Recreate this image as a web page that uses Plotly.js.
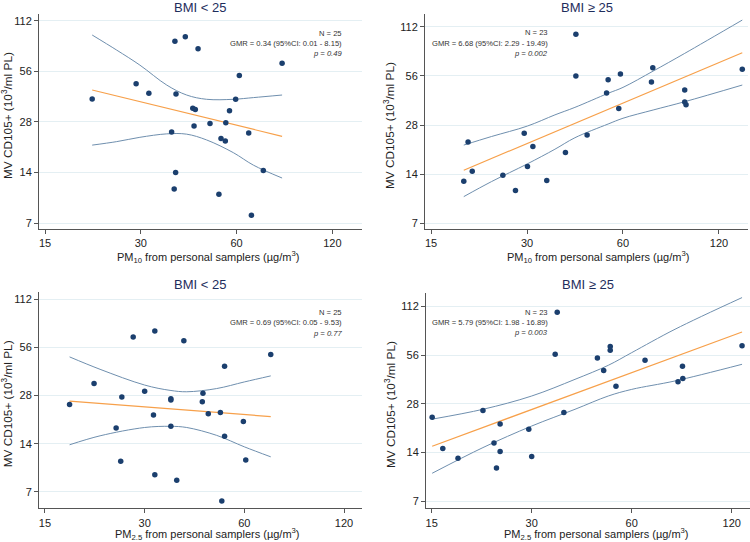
<!DOCTYPE html>
<html><head><meta charset="utf-8">
<script src="https://cdn.plot.ly/plotly-3.0.1.min.js"></script>
<style>html,body{margin:0;padding:0;background:#fff}#chart{width:750px;height:542px}</style>
</head><body><div id="chart"></div>
<script>
// ---- shared tick labels ----
const xTickVals = [15, 30, 60, 120];
const xTickText = ['15', '30', '60', '120'];
const yTickVals = [7, 14, 28, 56, 112];
const yTickText = ['7', '14', '28', '56', '112'];

// ---- Panel A: PM10, BMI < 25 ----
const pm10LowX = [21.1,29.0,31.8,38.4,41.4,45.4,38.7,37.5,43.7,44.5,44.1,49.5,53.6,55.3,55.5,57.0,59.6,61.2,65.5,83.4,38.6,38.2,52.8,72.8,66.8];
const pm10LowY = [38.4,47.3,41.5,84.5,89.9,76.4,41.1,24.4,33.8,33.2,26.5,27.4,22.3,21.6,27.7,32.7,38.2,53.0,24.1,62.5,14.0,11.2,10.4,14.4,7.8];
const pm10LowFitX = [21.1, 83.4];
const pm10LowFitY = [43.4, 23.0];
const pm10LowCiX = [21.1, 25.2, 29.8, 36.2, 41.8, 48.3, 58.6, 67.8, 83.4];
const pm10LowCiUp = [92.1, 74.9, 61.0, 46.4, 40.5, 38.2, 38.2, 39.1, 40.5];
const pm10LowCiLo = [20.4, 21.4, 22.7, 23.8, 23.7, 21.9, 18.4, 15.5, 13.0];
const pm10LowText = ['N = 25', 'GMR = 0.34 (95%CI: 0.01 - 8.15)', 'p = 0.49'];

// ---- Panel B: PM10, BMI >= 25 ----
const pm10HighX = [19.0,19.6,20.2,25.2,27.6,29.4,30.1,31.3,34.6,39.6,42.7,42.7,46.3,53.3,53.9,58.2,58.9,73.7,74.4,93.7,93.7,94.6,142];
const pm10HighY = [12.65,22.0,14.6,13.8,11.1,24.9,15.6,20.7,12.8,19.0,100.6,55.9,24.3,44.0,53.1,35.3,57.5,51.3,62.8,45.8,38.7,37.3,61.4];
const pm10HighFitX = [19.0, 142];
const pm10HighFitY = [14.8, 77.6];
const pm10HighCiX = [19.0, 23.2, 30.1, 36.7, 42.4, 53.9, 60.0, 74.6, 93.7, 142];
const pm10HighCiUp = [21.1, 23.8, 27.6, 32.3, 35.9, 43.8, 47.6, 59.9, 76.9, 123];
const pm10HighCiLo = [10.2, 12.6, 16.2, 19.9, 23.4, 28.4, 30.8, 34.6, 38.9, 49.2];
const pm10HighText = ['N = 23', 'GMR = 6.68 (95%CI: 2.29 - 19.49)', 'p = 0.002'];

// ---- Panel C: PM2.5, BMI < 25 ----
const pm25LowX = [17.8,21.1,24.6,25.6,25.4,27.7,30.0,31.9,32.2,32.2,36.0,36.0,36.0,37.5,39.4,44.8,45.0,46.7,50.8,51.3,52.3,52.3,59.6,60.6,72.1];
const pm25LowY = [24.6,33.4,17.6,27.5,10.9,65.2,29.8,21.2,71.0,8.95,26.8,26.3,18.0,8.29,61.8,25.6,29.0,21.6,22.0,6.14,42.7,15.6,19.3,11.1,50.7];
const pm25LowFitX = [17.8, 72.1];
const pm25LowFitY = [25.9, 20.7];
const pm25LowCiX = [17.8, 22.0, 30.0, 35.8, 40.2, 49.5, 60.0, 72.1];
const pm25LowCiUp = [48.9, 40.9, 32.6, 30.2, 29.6, 31.0, 34.1, 37.2];
const pm25LowCiLo = [13.8, 15.7, 17.7, 18.0, 17.7, 15.8, 13.4, 11.6];
const pm25LowText = ['N = 25', 'GMR = 0.69 (95%CI: 0.05 - 9.53)', 'p = 0.77'];

// ---- Panel D: PM2.5, BMI >= 25 ----
const pm25HighX = [15.05,16.2,18.0,21.4,23.1,23.5,24.1,24.1,29.4,30.0,35.8,35.3,37.5,47.3,49.4,51.7,51.7,53.8,65.8,82.7,85.3,85.5,128.9];
const pm25HighY = [23.1,14.8,12.9,25.5,16.0,11.2,21.0,14.2,19.5,13.2,103.3,56.7,24.7,53.9,45.1,63.3,60.1,36.0,52.1,38.3,47.8,40.2,64.2];
const pm25HighFitX = [15.05, 128.9];
const pm25HighFitY = [15.3, 78.0];
const pm25HighCiX = [15.05, 21.4, 30.0, 40.5, 51.0, 60.0, 81.0, 128.9];
const pm25HighCiUp = [22.5, 25.9, 31.3, 39.7, 48.5, 58.1, 81.1, 127.4];
const pm25HighCiLo = [10.4, 15.0, 20.4, 25.9, 31.3, 34.4, 38.8, 49.2];
const pm25HighText = ['N = 23', 'GMR = 5.79 (95%CI: 1.98 - 16.89)', 'p = 0.003'];

const panelTitles = ['BMI < 25', 'BMI \u2265 25', 'BMI < 25', 'BMI \u2265 25'];
const yTitle = 'MV CD105+ (10<sup>3</sup>/ml PL)';
const xTitles = ['PM<sub>10</sub> from personal samplers (\u00b5g/m<sup>3</sup>)',
                 'PM<sub>10</sub> from personal samplers (\u00b5g/m<sup>3</sup>)',
                 'PM<sub>2.5</sub> from personal samplers (\u00b5g/m<sup>3</sup>)',
                 'PM<sub>2.5</sub> from personal samplers (\u00b5g/m<sup>3</sup>)'];

// ---- styling / layout ----
const W = 750, H = 542;
const FONT = 'Liberation Sans, Arial, sans-serif';
const C_DOT = '#1b3f6e', C_CI = '#6f8fae', C_FIT = '#f7a04a';
const px = v => v / W;
const py = v => 1 - v / H;

const panels = [
  {sx: pm10LowX, sy: pm10LowY, fx: pm10LowFitX, fy: pm10LowFitY, cx: pm10LowCiX, cu: pm10LowCiUp, cl: pm10LowCiLo, txt: pm10LowText,
   box: [39, 362, 14, 229], xr: [14.36, 148.7], yr: [6.47, 122.8], titleY: 7.5, txtX: 344, txtY: [33.7, 43.7, 53.7], ytX: 7, ytY: 116, xtX: 207.5, xtY: 257},
  {sx: pm10HighX, sy: pm10HighY, fx: pm10HighFitX, fy: pm10HighFitY, cx: pm10HighCiX, cu: pm10HighCiUp, cl: pm10HighCiLo, txt: pm10HighText,
   box: [425, 748, 14, 229], xr: [14.36, 148], yr: [6.46, 134], titleY: 7.5, txtX: 550, txtY: [33, 43.3, 53.3], ytX: 390, ytY: 126, xtX: 597.5, xtY: 257},
  {sx: pm25LowX, sy: pm25LowY, fx: pm25LowFitX, fy: pm25LowFitY, cx: pm25LowCiX, cu: pm25LowCiUp, cl: pm25LowCiLo, txt: pm25LowText,
   box: [39, 362, 291.7, 508.3], xr: [14.39, 136], yr: [5.53, 125], titleY: 284.3, txtX: 344, txtY: [312.3, 322.7, 333], ytX: 7.3, ytY: 404, xtX: 207.5, xtY: 534},
  {sx: pm25HighX, sy: pm25HighY, fx: pm25HighFitX, fy: pm25HighFitY, cx: pm25HighCiX, cu: pm25HighCiUp, cl: pm25HighCiLo, txt: pm25HighText,
   box: [426, 750, 293, 508.3], xr: [14.42, 136.2], yr: [6.31, 136], titleY: 284.3, txtX: 550, txtY: [312.3, 322.7, 332.3], ytX: 390, ytY: 405, xtX: 596.5, xtY: 534}
];

const traces = [];
const layout = {
  width: W, height: H, margin: {l: 0, r: 0, t: 0, b: 0},
  paper_bgcolor: '#fff', plot_bgcolor: '#fff', showlegend: false,
  font: {family: FONT, color: '#222'}, annotations: []
};

panels.forEach((p, i) => {
  const n = i + 1;
  const xa = 'x' + (n === 1 ? '' : n), ya = 'y' + (n === 1 ? '' : n);
  const xk = 'xaxis' + (n === 1 ? '' : n), yk = 'yaxis' + (n === 1 ? '' : n);
  layout[xk] = {
    type: 'log', domain: [px(p.box[0]), px(p.box[1])], range: [Math.log10(p.xr[0]), Math.log10(p.xr[1])],
    anchor: ya, tickmode: 'array', tickvals: xTickVals, ticktext: xTickText,
    ticks: 'outside', ticklen: 4, tickwidth: 1, tickcolor: '#555',
    showline: true, linecolor: '#555', linewidth: 1, showgrid: false, zeroline: false,
    tickfont: {family: FONT, size: 11, color: '#222'}, fixedrange: true
  };
  layout[yk] = {
    type: 'log', domain: [py(p.box[3]), py(p.box[2])], range: [Math.log10(p.yr[0]), Math.log10(p.yr[1])],
    anchor: xa, tickmode: 'array', tickvals: yTickVals, ticktext: yTickText,
    ticks: 'outside', ticklen: 4, tickwidth: 1, tickcolor: '#555',
    showline: true, linecolor: '#555', linewidth: 1, showgrid: true, gridcolor: '#e4eff3', gridwidth: 1, zeroline: false,
    tickfont: {family: FONT, size: 11, color: '#222'}, fixedrange: true
  };
  traces.push({x: p.cx, y: p.cu, xaxis: xa, yaxis: ya, mode: 'lines', line: {color: C_CI, width: 1, shape: 'spline', smoothing: 1}, hoverinfo: 'skip'});
  traces.push({x: p.cx, y: p.cl, xaxis: xa, yaxis: ya, mode: 'lines', line: {color: C_CI, width: 1, shape: 'spline', smoothing: 1}, hoverinfo: 'skip'});
  traces.push({x: p.fx, y: p.fy, xaxis: xa, yaxis: ya, mode: 'lines', line: {color: C_FIT, width: 1.2}, hoverinfo: 'skip'});
  traces.push({x: p.sx, y: p.sy, xaxis: xa, yaxis: ya, mode: 'markers', marker: {color: C_DOT, size: 5.5}});

  const cx = (p.box[0] + p.box[1]) / 2;
  layout.annotations.push({text: panelTitles[i], xref: 'paper', yref: 'paper', x: px(cx), y: py(p.titleY),
    xanchor: 'center', yanchor: 'middle', showarrow: false, font: {family: FONT, size: 13, color: '#1e2d5c'}});
  layout.annotations.push({text: yTitle, xref: 'paper', yref: 'paper', x: px(p.ytX), y: py(p.ytY), textangle: -90,
    xanchor: 'center', yanchor: 'middle', showarrow: false, font: {family: FONT, size: 11.8, color: '#222'}});
  layout.annotations.push({text: xTitles[i], xref: 'paper', yref: 'paper', x: px(p.xtX), y: py(p.xtY),
    xanchor: 'center', yanchor: 'middle', showarrow: false, font: {family: FONT, size: 11, color: '#222'}});
  p.txt.forEach((t, k) => {
    layout.annotations.push({text: k === 2 ? '<i>' + t + '</i>' : t, xref: 'paper', yref: 'paper',
      x: px(p.txtX), y: py(p.txtY[k]), xanchor: 'right', yanchor: 'middle', showarrow: false,
      font: {family: FONT, size: 7.6, color: '#333'}});
  });
});

Plotly.newPlot('chart', traces, layout, {displayModeBar: false, staticPlot: true});
</script>
</body></html>
